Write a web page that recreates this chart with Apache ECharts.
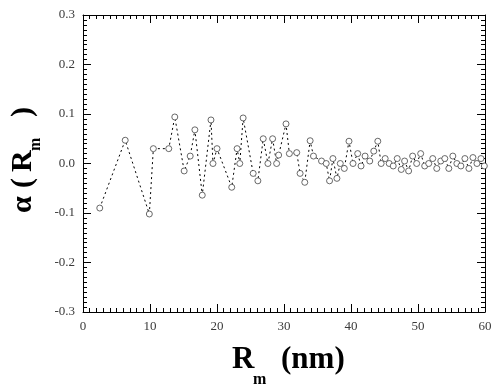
<!DOCTYPE html>
<html>
<head>
<meta charset="utf-8">
<script src="https://cdn.jsdelivr.net/npm/echarts@6/dist/echarts.min.js"></script>
<style>html,body{margin:0;padding:0;background:#fff}#c{width:500px;height:389px}</style>
</head>
<body>
<div id="c"></div>
<script>
// Data
var radiusNm = [2.5, 6.3, 9.9, 10.5, 12.8, 13.7, 15.1, 16.0, 16.7, 17.8, 19.1, 19.4, 20.0, 22.2, 23.0, 23.4, 23.9, 25.4, 26.1, 26.9, 27.6, 28.3, 28.9, 29.2, 30.3, 30.8, 31.9, 32.4, 33.1, 33.9, 34.4, 35.6, 36.3, 36.8, 37.3, 37.9, 38.4, 39.0, 39.7, 40.3, 41.0, 41.5, 42.1, 42.8, 43.4, 44.0, 44.5, 45.1, 45.7, 46.3, 46.9, 47.5, 48.0, 48.6, 49.2, 49.8, 50.4, 51.0, 51.6, 52.2, 52.8, 53.4, 54.0, 54.6, 55.2, 55.8, 56.4, 57.0, 57.6, 58.2, 58.8, 59.4, 59.9];
var alphaValues = [-0.09, 0.047, -0.102, 0.03, 0.03, 0.094, -0.015, 0.015, 0.068, -0.064, 0.088, 0.0, 0.03, -0.048, 0.03, 0.0, 0.092, -0.02, -0.035, 0.05, 0.0, 0.05, 0.0, 0.017, 0.08, 0.02, 0.022, -0.02, -0.038, 0.046, 0.015, 0.005, 0.0, -0.035, 0.01, -0.03, 0.0, -0.01, 0.045, 0.0, 0.02, -0.005, 0.015, 0.005, 0.025, 0.045, 0.0, 0.01, 0.0, -0.005, 0.01, -0.012, 0.005, -0.015, 0.015, 0.0, 0.02, -0.005, 0.0, 0.01, -0.01, 0.005, 0.01, -0.01, 0.015, 0.0, -0.005, 0.01, -0.01, 0.012, 0.0, 0.01, -0.005];
var xTicks = {min: 0, max: 60, interval: 10, minorInterval: 1};
var yTicks = {min: -0.3, max: 0.3, interval: 0.1, minorInterval: 0.01};

var points = radiusNm.map(function (r, i) { return [r, alphaValues[i]]; });
var chart = echarts.init(document.getElementById('c'), null, {renderer: 'canvas'});
var serif = '"Liberation Serif", "DejaVu Serif", serif';

function mkAxis(t, pos, major, showLabel, fmt) {
  return {
    type: 'value', position: pos, min: t.min, max: t.max,
    interval: major ? t.interval : t.minorInterval,
    axisLine: {show: major, onZero: false, lineStyle: {color: '#000', width: 1}},
    axisTick: {show: true, inside: true, length: major ? 8 : 4, lineStyle: {color: '#000', width: 1}},
    splitLine: {show: false},
    axisLabel: showLabel ? {margin: 8, fontFamily: serif, fontSize: 13, color: '#3a3a3a', formatter: fmt} : {show: false}
  };
}
var yFmt = function (v) { return v.toFixed(1); };
var titleStyle = {fontFamily: serif, fontWeight: 'bold', fill: '#000'};

chart.setOption({
  animation: false,
  backgroundColor: '#fff',
  grid: {left: 83, right: 15, top: 15, bottom: 77},
  xAxis: [
    mkAxis(xTicks, 'bottom', true, true),
    mkAxis(xTicks, 'top', true, false),
    mkAxis(xTicks, 'bottom', false, false),
    mkAxis(xTicks, 'top', false, false)
  ],
  yAxis: [
    mkAxis(yTicks, 'left', true, true, yFmt),
    mkAxis(yTicks, 'right', true, false),
    mkAxis(yTicks, 'left', false, false),
    mkAxis(yTicks, 'right', false, false)
  ],
  series: [{
    type: 'line',
    xAxisIndex: 0, yAxisIndex: 0,
    data: points,
    symbol: 'circle',
    symbolSize: 6,
    showSymbol: true,
    showAllSymbol: true,
    lineStyle: {color: '#000', width: 1, type: [2, 3]},
    itemStyle: {color: '#fff', borderColor: '#444', borderWidth: 0.8}
  }],
  graphic: [
    {type: 'text', left: 232, top: 344, style: Object.assign({text: 'R', fontSize: 31}, titleStyle)},
    {type: 'text', left: 253, top: 372, style: Object.assign({text: 'm', fontSize: 16}, titleStyle)},
    {type: 'text', left: 281, top: 344, style: Object.assign({text: '(nm)', fontSize: 31}, titleStyle)},
    {
      type: 'group', x: 33, y: 162, rotation: Math.PI / 2,
      children: [
        {type: 'text', x: -51, y: -10, style: Object.assign({text: 'α', fontSize: 30, verticalAlign: 'middle'}, titleStyle)},
        {type: 'text', x: -26, y: -10, style: Object.assign({text: '(', fontSize: 30, verticalAlign: 'middle'}, titleStyle)},
        {type: 'text', x: -10, y: -10, style: Object.assign({text: 'R', fontSize: 30, verticalAlign: 'middle'}, titleStyle)},
        {type: 'text', x: 11, y: 3, style: Object.assign({text: 'm', fontSize: 16, verticalAlign: 'middle'}, titleStyle)},
        {type: 'text', x: 45, y: -10, style: Object.assign({text: ')', fontSize: 30, verticalAlign: 'middle'}, titleStyle)}
      ]
    }
  ]
});
</script>
</body>
</html>
